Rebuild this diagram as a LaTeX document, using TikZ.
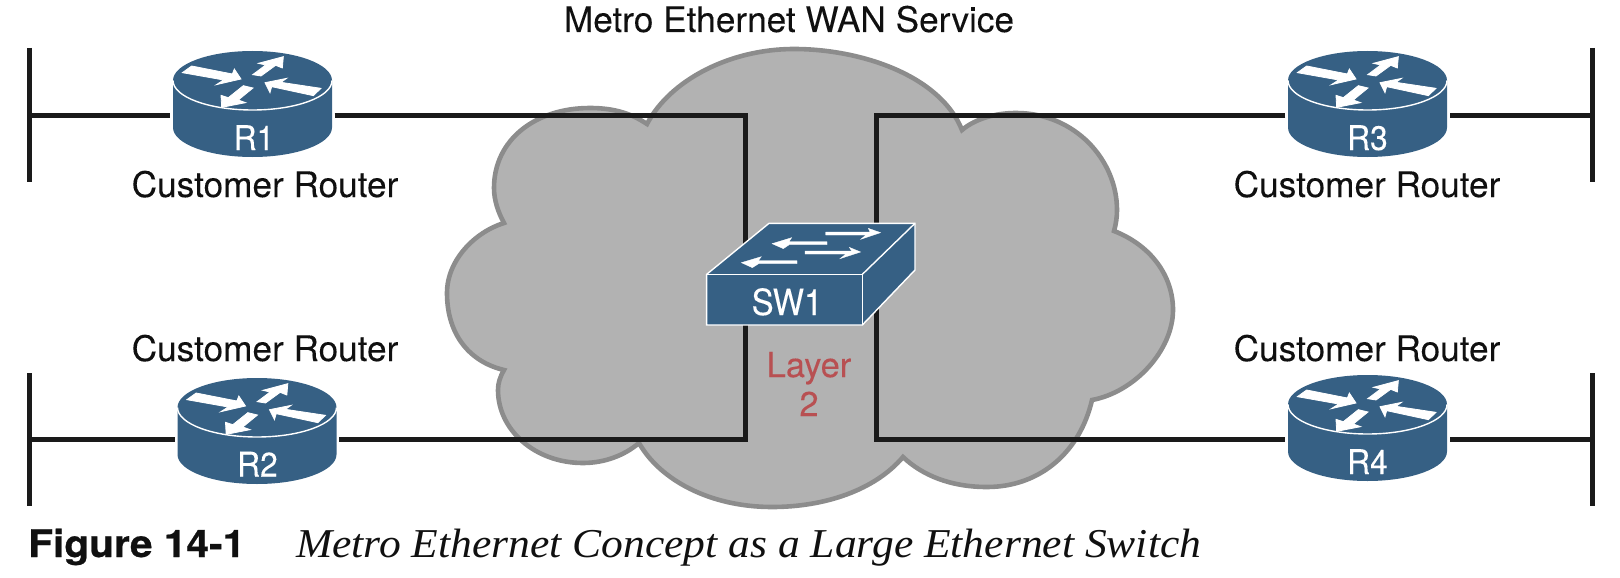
\documentclass[tikz,border=0pt]{standalone}
\usepackage{fontspec}
\usepackage{graphicx}
\setmainfont{TeX Gyre Heros}[FakeBold=0.08,AutoFakeBold=0.08]
\newfontfamily\helvbold{TeX Gyre Heros Bold}[FakeBold=0.6]
\newfontfamily\capserif{Liberation Serif}
\definecolor{netblue}{RGB}{54,96,132}
\definecolor{cloudfill}{RGB}{178,178,178}
\definecolor{cloudedge}{RGB}{140,140,140}
\definecolor{wireblack}{RGB}{26,26,26}
\definecolor{layerred}{RGB}{184,80,82}
\definecolor{textblack}{RGB}{16,16,16}
\tikzset{
  wire/.style={draw=wireblack,line width=5pt,miter limit=10},
  bar/.style={draw=wireblack,line width=5pt},
  cloudshape/.style={fill=cloudfill,draw=cloudedge,line width=4.6pt,line join=miter},
  devfill/.style={fill=netblue,draw=none},
  devedge/.style={draw=white,line width=1.4pt},
  glyph/.style={fill=white,draw=white,line width=0.8pt,line join=miter},
  portgap/.style={inner sep=0pt,minimum width=164pt,minimum height=10pt},
  caplabel/.style={inner sep=0pt,anchor=base,text=textblack,font=\fontsize{35.2}{40}\selectfont},
  devlabel/.style={inner sep=0pt,anchor=base,text=white,font=\fontsize{34}{40}\selectfont,xscale=0.93},
}
\newcommand{\routerdraw}[2]{%
  \begin{scope}[shift={(#1,#2)}]
    \path[devfill] (-79.5,0) -- (-79.5,47) arc[start angle=180,end angle=360,x radius=79.5pt,y radius=29.5pt] -- (79.5,0) -- cycle;
    \path[devfill] (0,0) ellipse[x radius=79.5pt,y radius=29.5pt];
    \draw[devedge] (-79.5,0) arc[start angle=180,end angle=360,x radius=79.5pt,y radius=29.5pt];
  \end{scope}
  \begin{scope}[shift={(#1,#2)},scale=1/3,shift={(-367.5,-151.5)}]
    \path[glyph] (157,128) -- (185,108) -- (307,132) -- (313,117) -- (333,147) -- (259,164) -- (281,150) -- cycle;
    \path[glyph] (368,134) -- (407,105) -- (385,100) -- (460,80) -- (457,114) -- (437,106) -- (393,138) -- cycle;
    \path[glyph] (340,167) -- (369,174) -- (325,210) -- (347,218) -- (275,232) -- (273,196) -- (295,203) -- cycle;
    \path[glyph] (573,175) -- (550,197) -- (425,170) -- (420,188) -- (405,158) -- (470,145) -- (453,157) -- cycle;
  \end{scope}}
\begin{document}
\begin{tikzpicture}[x=1pt,y=-1pt]
\useasboundingbox (0,0) rectangle (1620,578);
% cloud
\path[cloudshape] (647,124)
  .. controls (670,80) and (730,49) .. (794,49)
  .. controls (860,49) and (940,75) .. (962,130)
  .. controls (975,119) and (995,113) .. (1016,113)
  .. controls (1075,113) and (1117,160) .. (1117,210)
  .. controls (1117,217) and (1116,224) .. (1114,231)
  .. controls (1150,245) and (1173,275) .. (1173,310)
  .. controls (1173,350) and (1135,392) .. (1092,400)
  .. controls (1080,452) and (1040,487) .. (987,487)
  .. controls (950,487) and (922,475) .. (903,457)
  .. controls (875,490) and (825,507) .. (772,507)
  .. controls (710,507) and (660,480) .. (639,443)
  .. controls (625,455) and (605,463) .. (583,463)
  .. controls (535,463) and (498,430) .. (498,390)
  .. controls (498,383) and (500,377) .. (504,370)
  .. controls (470,362) and (447,335) .. (447,293)
  .. controls (447,260) and (475,232) .. (504,223)
  .. controls (498,212) and (494,200) .. (494,188)
  .. controls (494,140) and (535,108) .. (590,108)
  .. controls (615,108) and (632,114) .. (647,124) -- cycle;
% connection points
\node[portgap] (R1) at (252.5,115) {};
\node[portgap] (R2) at (257,439.3) {};
\node[portgap] (R3) at (1367.5,115) {};
\node[portgap] (R4) at (1367.5,439.3) {};
\coordinate (LT) at (745,115);
\coordinate (LB) at (745,439.3);
\coordinate (RT) at (876,115);
\coordinate (RB) at (876,439.3);
\coordinate (BarA1) at (29,48);
\coordinate (BarA2) at (29,182);
\coordinate (BarAm) at (29,115);
\coordinate (BarB1) at (29,373);
\coordinate (BarB2) at (29,506);
\coordinate (BarBm) at (29,439.3);
\coordinate (BarC1) at (1592,48);
\coordinate (BarC2) at (1592,182);
\coordinate (BarCm) at (1592,115);
\coordinate (BarD1) at (1592,373);
\coordinate (BarD2) at (1592,506);
\coordinate (BarDm) at (1592,439.3);
% wires
\draw[wire] (R1.east) -- (LT) -- (LB) -- (R2.east);
\draw[wire] (R3.west) -- (RT) -- (RB) -- (R4.west);
\draw[wire] (BarAm) -- (R1.west);
\draw[wire] (BarBm) -- (R2.west);
\draw[wire] (BarCm) -- (R3.east);
\draw[wire] (BarDm) -- (R4.east);
\draw[bar] (BarA1) -- (BarA2);
\draw[bar] (BarB1) -- (BarB2);
\draw[bar] (BarC1) -- (BarC2);
\draw[bar] (BarD1) -- (BarD2);
% routers
\routerdraw{252.5}{80.5}
\routerdraw{257}{407.5}
\routerdraw{1367.5}{80.5}
\routerdraw{1367.5}{404.5}
\node[devlabel] (R1text) at (254,150) {R1};
\node[devlabel] (R2text) at (257.5,476.5) {R2};
\node[devlabel] (R3text) at (1367.5,150) {R3};
\node[devlabel] (R4text) at (1367.5,474) {R4};
% switch
\begin{scope}[shift={(660,190)},scale=1/3]
  \path[devfill] (140,253) -- (327,100) -- (765,100) -- (765,240) -- (607,405) -- (140,405) -- cycle;
  \draw[devedge] (140,253) -- (327,100) -- (765,100) -- (765,240) -- (607,405) -- (140,405) -- cycle;
  \draw[devedge] (140,253) -- (607,253) -- (607,405);
  \draw[devedge] (607,253) -- (765,100);
  \path[glyph,line width=0.3pt] (497,126) -- (630,126) -- (625,115) -- (662,128) -- (602,148) -- (618,135) -- (497,135) -- cycle;
  \path[glyph,line width=0.3pt] (501,155) -- (387,155) -- (395,143) -- (336,161) -- (370,176) -- (388,164) -- (501,164) -- cycle;
  \path[glyph,line width=0.3pt] (435,183) -- (575,183) -- (568,172) -- (602,186) -- (540,206) -- (558,192) -- (435,192) -- cycle;
  \path[glyph,line width=0.3pt] (411,212) -- (295,212) -- (304,200) -- (244,218) -- (277,233) -- (296,221) -- (411,221) -- cycle;
\end{scope}
\node[inner sep=0pt,anchor=base,text=white,font=\fontsize{36}{40}\selectfont,xscale=0.92] (SW1) at (787,315) {SW1};
% texts
\node[caplabel] (title) at (789,32) {Metro Ethernet WAN Service};
\node[caplabel] (c1) at (265,197) {Customer Router};
\node[caplabel] (c2) at (265,361) {Customer Router};
\node[caplabel] (c3) at (1367,197) {Customer Router};
\node[caplabel] (c4) at (1367,361) {Customer Router};
\node[inner sep=0pt,align=center,text=layerred,font=\fontsize{34.5}{39}\selectfont] (layer) at (809,384) {Layer\\2};
\node[inner sep=0pt,anchor=base west,text=textblack] (fig) at (28,557) {\resizebox{217pt}{\height}{\helvbold\fontsize{38}{40}\selectfont Figure 14-1}};
\node[inner sep=0pt,anchor=base west,text=textblack] (figtext) at (296,557) {\resizebox{905pt}{\height}{\capserif\fontsize{41}{44}\selectfont\itshape Metro Ethernet Concept as a Large Ethernet Switch}};
\end{tikzpicture}
\end{document}
